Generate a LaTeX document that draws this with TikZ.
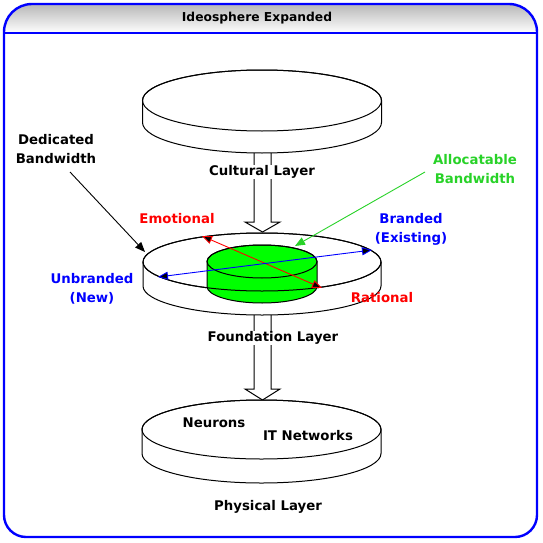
\documentclass[tikz,border=0pt]{standalone}
\usepackage{fontspec}
\setmainfont{DejaVu Sans}
\usetikzlibrary{arrows.meta}
\definecolor{agreen}{RGB}{40,210,40}
\definecolor{lime}{RGB}{0,255,0}
\newcommand\mydisc[6]{% cx, cy, rx, ry, h, fill
  \path[fill=#6,draw=black] (#1-#3,#2) -- (#1-#3,#2+#5)
     arc[start angle=180,end angle=0,x radius=#3,y radius=#4]
     -- (#1+#3,#2) arc[start angle=0,end angle=-180,x radius=#3,y radius=#4] -- cycle;
  \draw (#1,#2) ellipse[x radius=#3,y radius=#4];
}
\tikzset{
  lbl/.style={font=\fontsize{13.3}{19}\selectfont\bfseries, align=center, inner sep=1pt},
  layerlbl/.style={lbl, fill=white},
  blockarrow/.style={draw=black, fill=white, line width=1pt},
  frame/.style={draw=blue, line width=2.4pt},
  thin/.style={line width=0.9pt},
}
\begin{document}
\begin{tikzpicture}[x=1pt,y=-1pt, line width=1pt]
\useasboundingbox (0,0) rectangle (542,543);
% title bar shading
\shade[top color=black!28, bottom color=white]
  (4,33) -- (4,32) arc[start angle=180,end angle=270,radius=28] -- (509,4)
  arc[start angle=270,end angle=360,radius=28] -- (537,33) -- cycle;
% frame
\draw[frame] (4,32) -- (4,515) arc[start angle=180,end angle=90,radius=22]
  -- (515,537) arc[start angle=90,end angle=0,radius=22]
  -- (537,32) arc[start angle=0,end angle=-90,radius=28]
  -- (32,4) arc[start angle=-90,end angle=-180,radius=28] -- cycle;
\draw[draw=blue, line width=2.4pt] (4,33) -- (537,33);
\node[lbl, font=\fontsize{12.3}{15}\selectfont\bfseries] (title) at (257,18) {Ideosphere Expanded};

% block arrows
\draw[blockarrow] (254,153) -- (254,222) -- (245,222) -- (262.5,232) -- (280,222) -- (271,222) -- (271,153);
\draw[blockarrow] (254,315) -- (254,389) -- (245,389) -- (262.5,400) -- (280,389) -- (271,389) -- (271,315);

% discs
\mydisc{262}{100.5}{119.5}{30.5}{22}{white}
\mydisc{262}{262}{119}{29}{24}{white}
\mydisc{262}{261.5}{55}{16.5}{25}{lime}
\draw (143,262) arc[start angle=180,end angle=0,x radius=119,y radius=29];
\mydisc{261.5}{429.5}{119.5}{29.5}{24}{white}

% labels
\node[layerlbl] (cult) at (262,172) {Cultural Layer};
\node[layerlbl] (found) at (273,338) {Foundation Layer};
\node[lbl] (phys) at (268,507) {Physical Layer};
\node[lbl] (neur) at (214,423) {Neurons};
\node[lbl] (itn) at (308,436) {IT Networks};
\node[lbl] (ded) at (56,149.5) {Dedicated\\Bandwidth};
\node[lbl, text=red] (emo) at (177,219) {Emotional};
\node[lbl, text=red] (rat) at (382,298) {Rational};
\node[lbl, text=blue] (brand) at (411,229.5) {Branded\\(Existing)};
\node[lbl, text=blue] (unbr) at (92,288.5) {Unbranded\\(New)};
\node[lbl, text=agreen] (alloc) at (475,169.5) {Allocatable\\Bandwidth};

% thin arrows
\coordinate (dedS) at (70,172);
\coordinate (dedT) at (145,252);
\coordinate (allS) at (425,172);
\coordinate (allT) at (295,246);
\coordinate (redA) at (202,236);
\coordinate (redB) at (322,288);
\coordinate (bluA) at (158,277);
\coordinate (bluB) at (372,250);
\draw[thin, -{Triangle[length=10pt,width=8pt,fill=black]}] (dedS) -- (dedT);
\draw[thin, agreen, -{Triangle[length=10pt,width=8pt]}] (allS) -- (allT);
\draw[thin, red, {Triangle[length=10pt,width=8pt,fill=black]}-{Triangle[length=10pt,width=8pt,fill=black]}] (redA) -- (redB);
\draw[thin, blue, {Triangle[length=10pt,width=8pt,fill=black]}-{Triangle[length=10pt,width=8pt,fill=black]}] (bluA) -- (bluB);
\end{tikzpicture}
\end{document}
